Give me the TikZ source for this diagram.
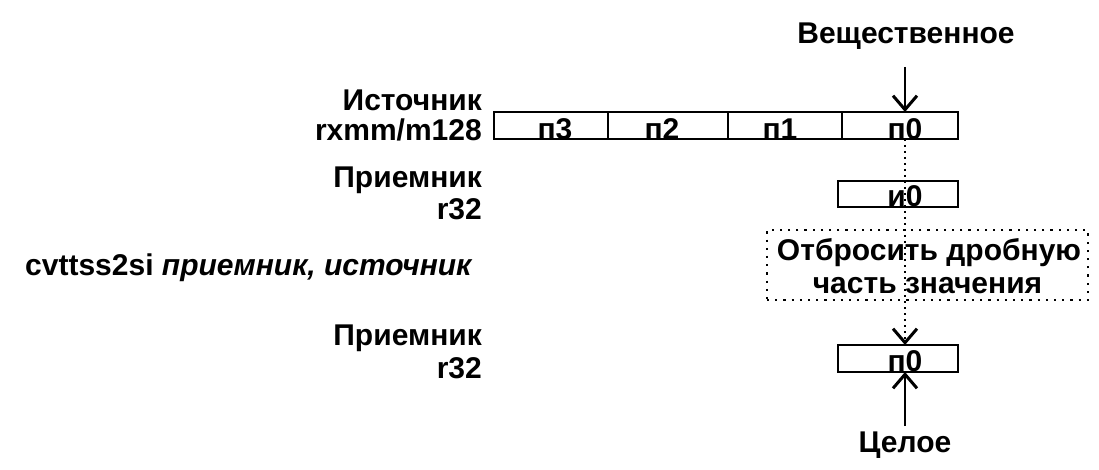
\documentclass[tikz,border=0pt]{standalone}
\usepackage{fontspec}
\setmainfont{Liberation Sans}
\usetikzlibrary{arrows.meta}
\begin{document}
\begin{tikzpicture}[x=1pt,y=-1pt,
  txt/.style={inner sep=0pt,font=\fontsize{30}{34}\selectfont\bfseries},
  cell/.style={draw,line width=2.8pt},
  barbtip/.style={-{Straight Barb[length=14pt,width=24pt,line width=3pt]}},
  barb/.style={line width=2.8pt,barbtip},
  dotline/.style={line width=2pt,dash pattern=on 2pt off 4pt},
  dotbox/.style={draw,line width=2.2pt,dash pattern=on 2.2pt off 6pt},
]
\useasboundingbox (0,0) rectangle (1099,470);
% labels left
\node[txt,anchor=base east] (srcl) at (482,111) {Источник};
\node[txt,anchor=base east] (srcr) at (482,141) {rxmm/m128};
\node[txt,anchor=base east] (dstl) at (482,188) {Приемник};
\node[txt,anchor=base east] (dstr) at (482,219) {r32};
\node[txt,anchor=base west] (ins) at (25,275) {cvttss2si \textit{приемник, источник}};
\node[txt,anchor=base east] (resl) at (482,345) {Приемник};
\node[txt,anchor=base east] (resr) at (482,378) {r32};
% source row
\draw[cell] (494,112) rectangle (958,139);
\draw[cell] (608,112) -- (608,139);
\draw[cell] (728,112) -- (728,139);
\draw[cell] (842,112) -- (842,139);
\node[txt,anchor=base] (s3) at (555,140) {п3};
\node[txt,anchor=base] (s2) at (662,140) {п2};
\node[txt,anchor=base] (s1) at (780,140) {п1};
\node[txt,anchor=base] (s0) at (905,140) {п0};
\coordinate (srctop) at (905,112);
\coordinate (srcbot) at (905,139);
% dest box
\node[cell,minimum width=120pt,minimum height=26pt,inner sep=0pt] (dst) at (898,194) {};
\node[txt,anchor=base] (d0) at (905,207) {и0};
% dotted box
\node[dotbox,minimum width=321pt,minimum height=70pt,inner sep=0pt] (op) at (927.5,265) {};
\node[txt,anchor=base] (op1) at (929,260) {Отбросить дробную};
\node[txt,anchor=base] (op2) at (927.5,293) {часть значения};
% result box
\node[cell,minimum width=120pt,minimum height=27pt,inner sep=0pt] (res) at (898,358.5) {};
\node[txt,anchor=base] (r0) at (905,371) {п0};
\coordinate (restop) at (905,345);
\coordinate (resbot) at (905,372);
% top/bottom labels
\node[txt,anchor=base] (real) at (906,44) {Вещественное};
\node[txt,anchor=base] (int) at (905,452) {Целое};
\coordinate (realend) at (905,67);
\coordinate (intend) at (905,426);
% connectors
\draw[barb] (realend) -- (srctop);
\draw[dotline,barbtip] (srcbot) -- (restop);
\draw[barb] (intend) -- (resbot);
\end{tikzpicture}
\end{document}
